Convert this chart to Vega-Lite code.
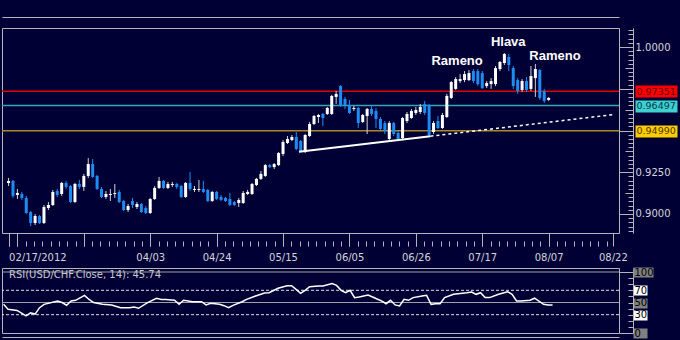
{
  "$schema": "https://vega.github.io/schema/vega-lite/v6.json",
  "background": "#000035",
  "padding": {"left": 0, "top": 16, "right": 6, "bottom": 2},
  "spacing": 3,
  "config": {
    "view": {"stroke": "#b4b4bc", "strokeWidth": 1},
    "axis": {"labelFont": "DejaVu Sans", "labelFontSize": 10, "labelColor": "#d4d4dc", "tickColor": "#b4b4bc", "domainColor": "#b4b4bc", "labelOverlap": false, "labelFlush": false, "grid": false, "tickWidth": 1, "domainWidth": 1}
  },
  "datasets": {
    "candles": [
      {"i":0,"o":0.9186,"h":0.9216,"l":0.9168,"c":0.9198},
      {"i":1,"o":0.9198,"h":0.9204,"l":0.9096,"c":0.9108},
      {"i":2,"o":0.9114,"h":0.9150,"l":0.9090,"c":0.9126},
      {"i":3,"o":0.9120,"h":0.9132,"l":0.9084,"c":0.9096},
      {"i":4,"o":0.9096,"h":0.9108,"l":0.9000,"c":0.9006},
      {"i":5,"o":0.9012,"h":0.9018,"l":0.8928,"c":0.8946},
      {"i":6,"o":0.8946,"h":0.9000,"l":0.8934,"c":0.8988},
      {"i":7,"o":0.8988,"h":0.8994,"l":0.8940,"c":0.8946},
      {"i":8,"o":0.8946,"h":0.9054,"l":0.8940,"c":0.9042},
      {"i":9,"o":0.9036,"h":0.9072,"l":0.9024,"c":0.9054},
      {"i":10,"o":0.9054,"h":0.9144,"l":0.9048,"c":0.9132},
      {"i":11,"o":0.9138,"h":0.9150,"l":0.9102,"c":0.9114},
      {"i":12,"o":0.9120,"h":0.9192,"l":0.9108,"c":0.9186},
      {"i":13,"o":0.9186,"h":0.9198,"l":0.9150,"c":0.9162},
      {"i":14,"o":0.9168,"h":0.9174,"l":0.9066,"c":0.9072},
      {"i":15,"o":0.9072,"h":0.9186,"l":0.9066,"c":0.9180},
      {"i":16,"o":0.9180,"h":0.9204,"l":0.9150,"c":0.9162},
      {"i":17,"o":0.9162,"h":0.9240,"l":0.9138,"c":0.9228},
      {"i":18,"o":0.9228,"h":0.9335,"l":0.9216,"c":0.9299},
      {"i":19,"o":0.9299,"h":0.9329,"l":0.9216,"c":0.9222},
      {"i":20,"o":0.9228,"h":0.9234,"l":0.9144,"c":0.9150},
      {"i":21,"o":0.9150,"h":0.9162,"l":0.9096,"c":0.9102},
      {"i":22,"o":0.9102,"h":0.9138,"l":0.9090,"c":0.9120},
      {"i":23,"o":0.9114,"h":0.9150,"l":0.9078,"c":0.9120},
      {"i":24,"o":0.9120,"h":0.9180,"l":0.9096,"c":0.9126},
      {"i":25,"o":0.9132,"h":0.9144,"l":0.9066,"c":0.9072},
      {"i":26,"o":0.9078,"h":0.9084,"l":0.9018,"c":0.9024},
      {"i":27,"o":0.9024,"h":0.9060,"l":0.9012,"c":0.9048},
      {"i":28,"o":0.9078,"h":0.9096,"l":0.9036,"c":0.9054},
      {"i":29,"o":0.9042,"h":0.9072,"l":0.9030,"c":0.9060},
      {"i":30,"o":0.9060,"h":0.9066,"l":0.9006,"c":0.9012},
      {"i":31,"o":0.9036,"h":0.9048,"l":0.9000,"c":0.9006},
      {"i":32,"o":0.9006,"h":0.9096,"l":0.9000,"c":0.9090},
      {"i":33,"o":0.9090,"h":0.9168,"l":0.9084,"c":0.9156},
      {"i":34,"o":0.9156,"h":0.9222,"l":0.9150,"c":0.9198},
      {"i":35,"o":0.9198,"h":0.9204,"l":0.9150,"c":0.9156},
      {"i":36,"o":0.9156,"h":0.9192,"l":0.9150,"c":0.9180},
      {"i":37,"o":0.9174,"h":0.9192,"l":0.9162,"c":0.9180},
      {"i":38,"o":0.9180,"h":0.9186,"l":0.9150,"c":0.9162},
      {"i":39,"o":0.9168,"h":0.9174,"l":0.9096,"c":0.9102},
      {"i":40,"o":0.9102,"h":0.9192,"l":0.9096,"c":0.9186},
      {"i":41,"o":0.9186,"h":0.9251,"l":0.9138,"c":0.9150},
      {"i":42,"o":0.9144,"h":0.9168,"l":0.9132,"c":0.9150},
      {"i":43,"o":0.9144,"h":0.9204,"l":0.9132,"c":0.9150},
      {"i":44,"o":0.9150,"h":0.9198,"l":0.9126,"c":0.9132},
      {"i":45,"o":0.9144,"h":0.9150,"l":0.9072,"c":0.9078},
      {"i":46,"o":0.9078,"h":0.9138,"l":0.9072,"c":0.9132},
      {"i":47,"o":0.9132,"h":0.9138,"l":0.9084,"c":0.9090},
      {"i":48,"o":0.9102,"h":0.9114,"l":0.9078,"c":0.9084},
      {"i":49,"o":0.9096,"h":0.9102,"l":0.9072,"c":0.9078},
      {"i":50,"o":0.9090,"h":0.9126,"l":0.9048,"c":0.9054},
      {"i":51,"o":0.9072,"h":0.9078,"l":0.9048,"c":0.9054},
      {"i":52,"o":0.9066,"h":0.9096,"l":0.9042,"c":0.9084},
      {"i":53,"o":0.9066,"h":0.9138,"l":0.9060,"c":0.9126},
      {"i":54,"o":0.9120,"h":0.9144,"l":0.9114,"c":0.9132},
      {"i":55,"o":0.9120,"h":0.9186,"l":0.9114,"c":0.9180},
      {"i":56,"o":0.9174,"h":0.9216,"l":0.9168,"c":0.9210},
      {"i":57,"o":0.9210,"h":0.9257,"l":0.9204,"c":0.9240},
      {"i":58,"o":0.9228,"h":0.9299,"l":0.9222,"c":0.9293},
      {"i":59,"o":0.9293,"h":0.9299,"l":0.9275,"c":0.9281},
      {"i":60,"o":0.9281,"h":0.9305,"l":0.9269,"c":0.9299},
      {"i":61,"o":0.9293,"h":0.9371,"l":0.9287,"c":0.9365},
      {"i":62,"o":0.9359,"h":0.9443,"l":0.9347,"c":0.9431},
      {"i":63,"o":0.9425,"h":0.9467,"l":0.9419,"c":0.9449},
      {"i":64,"o":0.9443,"h":0.9473,"l":0.9437,"c":0.9461},
      {"i":65,"o":0.9461,"h":0.9491,"l":0.9383,"c":0.9389},
      {"i":66,"o":0.9437,"h":0.9443,"l":0.9371,"c":0.9377},
      {"i":67,"o":0.9371,"h":0.9479,"l":0.9365,"c":0.9473},
      {"i":68,"o":0.9467,"h":0.9551,"l":0.9461,"c":0.9539},
      {"i":69,"o":0.9539,"h":0.9593,"l":0.9533,"c":0.9587},
      {"i":70,"o":0.9581,"h":0.9599,"l":0.9545,"c":0.9593},
      {"i":71,"o":0.9599,"h":0.9605,"l":0.9527,"c":0.9575},
      {"i":72,"o":0.9599,"h":0.9641,"l":0.9593,"c":0.9635},
      {"i":73,"o":0.9599,"h":0.9713,"l":0.9593,"c":0.9707},
      {"i":74,"o":0.9701,"h":0.9737,"l":0.9659,"c":0.9719},
      {"i":75,"o":0.9766,"h":0.9772,"l":0.9641,"c":0.9647},
      {"i":76,"o":0.9689,"h":0.9701,"l":0.9629,"c":0.9653},
      {"i":77,"o":0.9653,"h":0.9683,"l":0.9599,"c":0.9605},
      {"i":78,"o":0.9629,"h":0.9647,"l":0.9617,"c":0.9635},
      {"i":79,"o":0.9635,"h":0.9641,"l":0.9515,"c":0.9545},
      {"i":80,"o":0.9551,"h":0.9599,"l":0.9545,"c":0.9593},
      {"i":81,"o":0.9587,"h":0.9635,"l":0.9479,"c":0.9629},
      {"i":82,"o":0.9629,"h":0.9647,"l":0.9587,"c":0.9599},
      {"i":83,"o":0.9617,"h":0.9635,"l":0.9515,"c":0.9569},
      {"i":84,"o":0.9569,"h":0.9581,"l":0.9503,"c":0.9509},
      {"i":85,"o":0.9545,"h":0.9557,"l":0.9479,"c":0.9497},
      {"i":86,"o":0.9449,"h":0.9557,"l":0.9437,"c":0.9545},
      {"i":87,"o":0.9545,"h":0.9551,"l":0.9467,"c":0.9479},
      {"i":88,"o":0.9485,"h":0.9497,"l":0.9437,"c":0.9449},
      {"i":89,"o":0.9455,"h":0.9581,"l":0.9443,"c":0.9575},
      {"i":90,"o":0.9557,"h":0.9611,"l":0.9545,"c":0.9599},
      {"i":91,"o":0.9575,"h":0.9629,"l":0.9569,"c":0.9617},
      {"i":92,"o":0.9605,"h":0.9641,"l":0.9593,"c":0.9623},
      {"i":93,"o":0.9611,"h":0.9659,"l":0.9599,"c":0.9641},
      {"i":94,"o":0.9659,"h":0.9677,"l":0.9593,"c":0.9605},
      {"i":95,"o":0.9653,"h":0.9659,"l":0.9461,"c":0.9473},
      {"i":96,"o":0.9491,"h":0.9557,"l":0.9479,"c":0.9545},
      {"i":97,"o":0.9557,"h":0.9587,"l":0.9509,"c":0.9515},
      {"i":98,"o":0.9515,"h":0.9605,"l":0.9509,"c":0.9593},
      {"i":99,"o":0.9581,"h":0.9719,"l":0.9575,"c":0.9707},
      {"i":100,"o":0.9695,"h":0.9796,"l":0.9689,"c":0.9790},
      {"i":101,"o":0.9749,"h":0.9820,"l":0.9743,"c":0.9808},
      {"i":102,"o":0.9796,"h":0.9838,"l":0.9784,"c":0.9808},
      {"i":103,"o":0.9802,"h":0.9856,"l":0.9790,"c":0.9838},
      {"i":104,"o":0.9802,"h":0.9862,"l":0.9796,"c":0.9844},
      {"i":105,"o":0.9856,"h":0.9868,"l":0.9784,"c":0.9796},
      {"i":106,"o":0.9856,"h":0.9868,"l":0.9766,"c":0.9778},
      {"i":107,"o":0.9844,"h":0.9856,"l":0.9749,"c":0.9754},
      {"i":108,"o":0.9766,"h":0.9796,"l":0.9754,"c":0.9784},
      {"i":109,"o":0.9778,"h":0.9814,"l":0.9749,"c":0.9796},
      {"i":110,"o":0.9778,"h":0.9886,"l":0.9766,"c":0.9874},
      {"i":111,"o":0.9868,"h":0.9916,"l":0.9856,"c":0.9910},
      {"i":112,"o":0.9904,"h":0.9964,"l":0.9892,"c":0.9958},
      {"i":113,"o":0.9940,"h":0.9958,"l":0.9856,"c":0.9892},
      {"i":114,"o":0.9874,"h":0.9886,"l":0.9749,"c":0.9766},
      {"i":115,"o":0.9802,"h":0.9814,"l":0.9719,"c":0.9737},
      {"i":116,"o":0.9743,"h":0.9808,"l":0.9731,"c":0.9796},
      {"i":117,"o":0.9796,"h":0.9820,"l":0.9731,"c":0.9743},
      {"i":118,"o":0.9749,"h":0.9886,"l":0.9737,"c":0.9826},
      {"i":119,"o":0.9814,"h":0.9898,"l":0.9701,"c":0.9868},
      {"i":120,"o":0.9862,"h":0.9868,"l":0.9683,"c":0.9695},
      {"i":121,"o":0.9737,"h":0.9749,"l":0.9665,"c":0.9677},
      {"i":122,"o":0.9683,"h":0.9701,"l":0.9677,"c":0.9695}
    ],
    "levels": [{"v": 0.97351}, {"v": 0.96497}, {"v": 0.9499}],
    "trend": [{"i": 65.6, "p": 0.93731}, {"i": 95.3, "p": 0.94659}],
    "trend2": [{"i": 95.3, "p": 0.94659}, {"i": 136.76, "p": 0.95958}],
    "notes": [
      {"i": 101.32, "p": 0.98904, "t": "Rameno"},
      {"i": 112.87, "p": 1.0006, "t": "Hlava"},
      {"i": 123.43, "p": 0.99204, "t": "Rameno"}
    ],
    "rsi": [
      {"i":0,"r":47},{"i":1,"r":39},{"i":3,"r":37},{"i":5,"r":28},{"i":6,"r":33},{"i":7,"r":31},
      {"i":8,"r":41.5},{"i":9,"r":47},{"i":12,"r":52.5},{"i":13,"r":50},{"i":14,"r":45.5},{"i":15,"r":52.5},
      {"i":16,"r":53.6},{"i":18,"r":61.7},{"i":19,"r":55},{"i":20,"r":50},{"i":22,"r":47},{"i":24,"r":46},
      {"i":26,"r":41.5},{"i":28,"r":41.5},{"i":29,"r":42.6},{"i":30,"r":40.5},{"i":32,"r":49.7},{"i":34,"r":57},
      {"i":35,"r":55},{"i":36,"r":55},{"i":38,"r":53.6},{"i":39,"r":47},{"i":40,"r":53.6},{"i":42,"r":51.3},
      {"i":44,"r":51.3},{"i":45,"r":46},{"i":46,"r":48.6},{"i":48,"r":47},{"i":49,"r":44.8},{"i":50,"r":41.5},
      {"i":51,"r":45.4},{"i":53,"r":51.3},{"i":54,"r":55.2},{"i":56,"r":60.7},{"i":58,"r":65.6},{"i":59,"r":66},
      {"i":61,"r":73.3},{"i":63,"r":77.6},{"i":64,"r":77.6},{"i":65,"r":71.6},{"i":66,"r":65},{"i":67,"r":70},
      {"i":68,"r":76},{"i":70,"r":77},{"i":71,"r":77},{"i":73,"r":81},{"i":74,"r":78},{"i":75,"r":70},
      {"i":76,"r":66},{"i":77,"r":70},{"i":78,"r":58},{"i":79,"r":59},{"i":81,"r":62.3},{"i":82,"r":59},
      {"i":84,"r":52.5},{"i":85,"r":48},{"i":86,"r":53.6},{"i":87,"r":46},{"i":88,"r":44.3},{"i":89,"r":55.2},
      {"i":90,"r":53.6},{"i":91,"r":58},{"i":93,"r":60.7},{"i":94,"r":61.8},{"i":95,"r":47},{"i":96,"r":48},
      {"i":97,"r":48},{"i":98,"r":58},{"i":100,"r":63.4},{"i":101,"r":64.4},{"i":103,"r":66.1},{"i":104,"r":67.2},
      {"i":105,"r":63.4},{"i":106,"r":66.1},{"i":107,"r":58},{"i":108,"r":58},{"i":110,"r":63.4},{"i":112,"r":67.7},
      {"i":113,"r":63.4},{"i":114,"r":52.5},{"i":115,"r":52.5},{"i":117,"r":53.6},{"i":118,"r":57},{"i":120,"r":47},
      {"i":121,"r":46},{"i":122,"r":45.74}
    ],
    "rsisolid": [{"v": 100}, {"v": 50}],
    "rsidash": [{"v": 70}, {"v": 30}],
    "rsititle": [{"i": 1.2, "r": 95.1, "t": "RSI(USD/CHF.Close, 14): 45.74"}]
  },
  "vconcat": [
    {
      "width": 617,
      "height": 205,
      "layer": [
        {
          "data": {"name": "levels"},
          "mark": {"type": "rule", "strokeWidth": 1.5},
          "encoding": {
            "y": {"field": "v", "type": "quantitative", "scale": {"domain": [0.88862, 1.01138], "nice": false, "zero": false},
              "axis": {"orient": "right", "offset": 14, "domain": true, "ticks": false, "labels": false, "title": null}},
            "color": {"field": "v", "type": "nominal", "scale": {"domain": [0.97351, 0.96497, 0.9499], "range": ["#e00000", "#30a8b4", "#a88a28"]}, "legend": null}
          }
        },
        {
          "data": {"name": "candles"},
          "mark": {"type": "rule", "strokeWidth": 1},
          "encoding": {
            "x": {"field": "i", "type": "quantitative", "scale": {"domain": [-0.35, 136.76], "nice": false, "zero": false},
              "axis": {"orient": "bottom", "offset": 0, "values": [0, 2, 17, 32, 47, 62, 77, 92, 107, 122, 136.5], "tickSize": 13, "domain": false, "title": null, "labelPadding": 6,
                "labelExpr": "datum.value == 0 ? '02/17/2012' : datum.value == 32 ? '04/03' : datum.value == 47 ? '04/24' : datum.value == 62 ? '05/15' : datum.value == 77 ? '06/05' : datum.value == 92 ? '06/26' : datum.value == 107 ? '07/17' : datum.value == 122 ? '08/07' : datum.value == 136.5 ? '08/22' : ''",
                "labelAlign": {"condition": {"test": "datum.value == 0", "value": "left"}, "value": "center"}}},
            "y": {"field": "l", "type": "quantitative", "scale": {"domain": [0.88862, 1.01138], "nice": false, "zero": false},
              "axis": {"orient": "right", "offset": 0, "values": [0.9, 0.925, 0.95, 0.975, 1.0], "tickSize": 14, "domain": false, "title": null, "labelPadding": 2,
                "labelExpr": "datum.value == 0.95 || datum.value == 0.975 ? '' : format(datum.value, '.4f')"}},
            "y2": {"field": "h"},
            "color": {"condition": {"test": "datum.c >= datum.o", "value": "#d0d0d0"}, "value": "#1e8cf0"}
          }
        },
        {
          "data": {"name": "candles"},
          "mark": {"type": "bar", "size": 3},
          "encoding": {
            "x": {"field": "i", "type": "quantitative", "scale": {"domain": [-0.35, 136.76], "nice": false, "zero": false},
              "axis": {"orient": "bottom", "offset": 8, "tickSize": 5, "domain": false, "labels": false, "title": null,
                "values": [0.125, 2, 3.875, 5.75, 7.625, 9.5, 11.375, 13.25, 15.125, 17, 18.875, 20.75, 22.625, 24.5, 26.375, 28.25, 30.125, 32, 33.875, 35.75, 37.625, 39.5, 41.375, 43.25, 45.125, 47, 48.875, 50.75, 52.625, 54.5, 56.375, 58.25, 60.125, 62, 63.875, 65.75, 67.625, 69.5, 71.375, 73.25, 75.125, 77, 78.875, 80.75, 82.625, 84.5, 86.375, 88.25, 90.125, 92, 93.875, 95.75, 97.625, 99.5, 101.375, 103.25, 105.125, 107, 108.875, 110.75, 112.625, 114.5, 116.375, 118.25, 120.125, 122, 123.875, 125.75, 127.625, 129.5, 131.375, 133.25, 135.125]}},
            "y": {"field": "o", "type": "quantitative", "scale": {"domain": [0.88862, 1.01138], "nice": false, "zero": false},
              "axis": {"orient": "right", "offset": 9, "tickSize": 5, "domain": false, "labels": false, "title": null,
                "values": [0.89, 0.8925, 0.895, 0.8975, 0.9, 0.9025, 0.905, 0.9075, 0.91, 0.9125, 0.915, 0.9175, 0.92, 0.9225, 0.925, 0.9275, 0.93, 0.9325, 0.935, 0.9375, 0.94, 0.9425, 0.945, 0.9475, 0.95, 0.9525, 0.955, 0.9575, 0.96, 0.9625, 0.965, 0.9675, 0.97, 0.9725, 0.975, 0.9775, 0.98, 0.9825, 0.985, 0.9875, 0.99, 0.9925, 0.995, 0.9975, 1.0, 1.0025, 1.005, 1.0075, 1.01]}},
            "y2": {"field": "c"},
            "color": {"condition": {"test": "datum.c >= datum.o", "value": "#ffffff"}, "value": "#1e8cf0"}
          }
        },
        {
          "data": {"name": "trend"},
          "mark": {"type": "line", "color": "#ffffff", "strokeWidth": 2},
          "encoding": {
            "x": {"field": "i", "type": "quantitative", "scale": {"domain": [-0.35, 136.76], "nice": false, "zero": false},
              "axis": {"orient": "top", "offset": 11, "domain": true, "ticks": false, "labels": false, "title": null}},
            "y": {"field": "p", "type": "quantitative", "scale": {"domain": [0.88862, 1.01138], "nice": false, "zero": false},
              "axis": {"orient": "right", "offset": 16, "values": [0.97351, 0.96497, 0.9499], "tickSize": 42, "tickWidth": 12, "domain": false, "title": null, "labelPadding": -41, "labelFontSize": 9.5,
                "labelExpr": "format(datum.value, '.5f')",
                "tickColor": {"condition": [{"test": "datum.value == 0.97351", "value": "#ff0000"}, {"test": "datum.value == 0.96497", "value": "#40d0d0"}], "value": "#ffcc00"},
                "labelColor": {"condition": [{"test": "datum.value == 0.97351", "value": "#600000"}, {"test": "datum.value == 0.96497", "value": "#003848"}], "value": "#4a3800"}}}
          }
        },
        {
          "data": {"name": "trend2"},
          "mark": {"type": "line", "color": "#ffffff", "strokeWidth": 1.5, "strokeDash": [3, 3]},
          "encoding": {
            "x": {"field": "i", "type": "quantitative", "scale": {"domain": [-0.35, 136.76], "nice": false, "zero": false}, "axis": null},
            "y": {"field": "p", "type": "quantitative", "scale": {"domain": [0.88862, 1.01138], "nice": false, "zero": false},
              "axis": {"orient": "right", "offset": 6, "tickSize": 8, "domain": false, "labels": false, "title": null, "values": [0.9125, 0.9375, 0.9625, 0.9875]}}
          }
        },
        {
          "data": {"name": "notes"},
          "mark": {"type": "text", "font": "Liberation Sans", "fontWeight": "bold", "fontSize": 13, "color": "#ffffff", "align": "center", "baseline": "alphabetic"},
          "encoding": {
            "x": {"field": "i", "type": "quantitative", "scale": {"domain": [-0.35, 136.76], "nice": false, "zero": false}, "axis": null},
            "y": {"field": "p", "type": "quantitative", "scale": {"domain": [0.88862, 1.01138], "nice": false, "zero": false}, "axis": null},
            "text": {"field": "t"}
          }
        }
      ],
      "resolve": {"axis": {"x": "independent", "y": "independent"}}
    },
    {
      "width": 617,
      "height": 65,
      "layer": [
        {
          "data": {"name": "rsisolid"},
          "mark": {"type": "rule", "color": "#a0a0a8", "strokeWidth": 1},
          "encoding": {
            "y": {"field": "v", "type": "quantitative", "scale": {"domain": [0, 106.56], "nice": false, "zero": false},
              "axis": {"orient": "right", "offset": 9, "tickSize": 5, "domain": false, "labels": false, "title": null, "values": [10, 20, 30, 40, 50, 60, 70, 80, 90]}}
          }
        },
        {
          "data": {"name": "rsidash"},
          "mark": {"type": "rule", "color": "#e0e0e8", "strokeWidth": 1, "strokeDash": [3, 2]},
          "encoding": {
            "y": {"field": "v", "type": "quantitative", "scale": {"domain": [0, 106.56], "nice": false, "zero": false},
              "axis": {"orient": "right", "offset": 14, "values": [70, 50, 30, 0], "tickSize": 14, "tickWidth": 10, "domain": true, "title": null, "labelPadding": -13, "labelColor": "#000000",
                "tickColor": {"condition": {"test": "datum.value == 70 || datum.value == 30", "value": "#ffffff"}, "value": "#808080"}}}
          }
        },
        {
          "data": {"name": "rsi"},
          "mark": {"type": "line", "color": "#ffffff", "strokeWidth": 1.5},
          "encoding": {
            "x": {"field": "i", "type": "quantitative", "scale": {"domain": [-0.35, 136.76], "nice": false, "zero": false},
              "axis": {"orient": "bottom", "offset": 4, "domain": true, "ticks": false, "labels": false, "title": null}},
            "y": {"field": "r", "type": "quantitative", "scale": {"domain": [0, 106.56], "nice": false, "zero": false},
              "axis": {"orient": "right", "offset": 0, "values": [0, 100], "tickSize": 14, "domain": false, "labels": false, "title": null}}
          }
        },
        {
          "data": {"name": "rsititle"},
          "mark": {"type": "text", "font": "DejaVu Sans", "fontSize": 10, "color": "#c8c8d0", "align": "left", "baseline": "middle"},
          "encoding": {
            "x": {"field": "i", "type": "quantitative", "scale": {"domain": [-0.35, 136.76], "nice": false, "zero": false}, "axis": null},
            "y": {"field": "r", "type": "quantitative", "scale": {"domain": [0, 106.56], "nice": false, "zero": false},
              "axis": {"orient": "right", "offset": 14, "values": [100], "tickSize": 20, "tickWidth": 10, "tickColor": "#808080", "domain": false, "title": null, "labelPadding": -19, "labelColor": "#000000"}},
            "text": {"field": "t"}
          }
        }
      ],
      "resolve": {"axis": {"x": "independent", "y": "independent"}}
    }
  ]
}
